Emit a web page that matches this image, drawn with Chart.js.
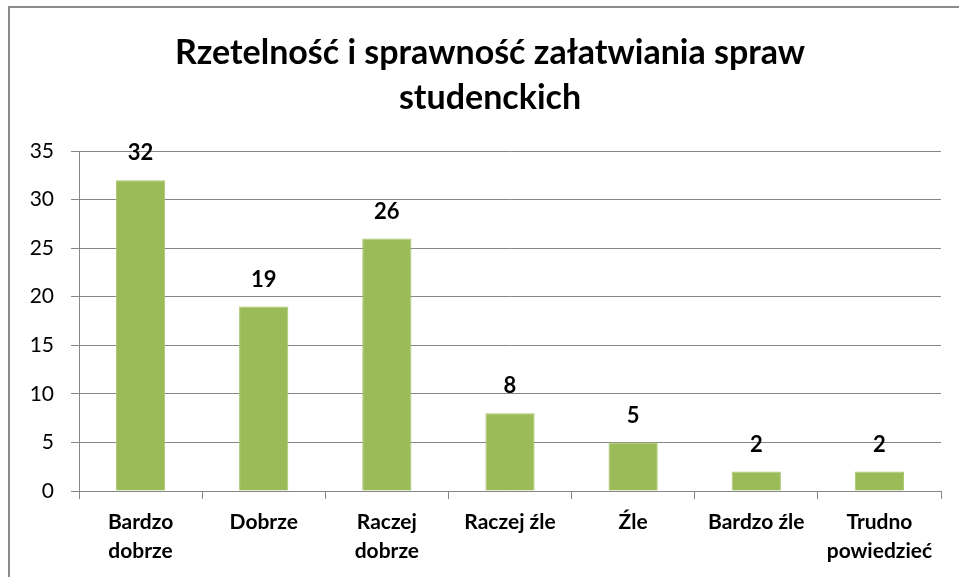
<!DOCTYPE html>
<html>
<head>
<meta charset="utf-8">
<script src="https://cdn.jsdelivr.net/npm/chart.js@4/dist/chart.umd.min.js"></script>
<style>
  html, body { margin: 0; padding: 0; background: #fff; overflow: hidden; }
  #wrap { position: relative; width: 959px; height: 577px; }
  #frame { position: absolute; left: 8px; top: 6px; width: 1000px; height: 700px; border-left: 2px solid #8c8c8c; border-top: 2px solid #8c8c8c; box-sizing: border-box; pointer-events: none; }
  canvas { position: absolute; left: 0; top: 0; }
</style>
</head>
<body>
<div id="wrap">
  <canvas id="c" width="959" height="577"></canvas>
  <div id="frame"></div>
</div>
<script>
const titleLines = ['Rzetelność i sprawność załatwiania spraw', 'studenckich'];
const categories = [['Bardzo', 'dobrze'], 'Dobrze', ['Raczej', 'dobrze'], 'Raczej źle', 'Źle', 'Bardzo źle', ['Trudno', 'powiedzieć']];
const values = [32, 19, 26, 8, 5, 2, 2];
const yMin = 0, yMax = 35, yStep = 5;

const FONT = 'Lato, "Open Sans", sans-serif';

const titlePlugin = {
  id: 'customTitle',
  afterDraw(chart) {
    const ctx = chart.ctx;
    ctx.save();
    ctx.fillStyle = '#000';
    ctx.font = 'bold 34px ' + FONT;
    ctx.textAlign = 'center';
    ctx.textBaseline = 'middle';
    ctx.fillText(titleLines[0], 490, 53);
    ctx.fillText(titleLines[1], 490, 98);
    ctx.restore();
  }
};

const labelPlugin = {
  id: 'barLabels',
  afterDatasetsDraw(chart) {
    const ctx = chart.ctx;
    const meta = chart.getDatasetMeta(0);
    ctx.save();
    ctx.fillStyle = '#000';
    ctx.font = 'bold 22px ' + FONT;
    ctx.textAlign = 'center';
    ctx.textBaseline = 'middle';
    meta.data.forEach((bar, i) => {
      ctx.fillText(String(values[i]), bar.x, bar.y - 27);
    });
    ctx.restore();
  }
};

new Chart(document.getElementById('c'), {
  type: 'bar',
  data: {
    labels: categories,
    datasets: [{
      data: values,
      backgroundColor: '#9BBB59',
      borderColor: '#A8C66C',
      borderWidth: 1,
      categoryPercentage: 1,
      barPercentage: 0.4
    }]
  },
  options: {
    responsive: false,
    animation: false,
    layout: { padding: { left: 0, top: 151, right: 18, bottom: 0 } },
    plugins: { legend: { display: false }, tooltip: { enabled: false }, title: { display: false } },
    scales: {
      x: {
        grid: { display: true, drawOnChartArea: false, drawTicks: true, tickLength: 8, color: '#868686', offset: true },
        border: { display: true, color: '#868686', width: 1 },
        ticks: { color: '#000', font: { family: FONT, size: 21, weight: 'bold', lineHeight: 1.38 }, padding: 9, maxRotation: 0, autoSkip: false },
        afterFit(scale) { scale.height = 86; }
      },
      y: {
        min: yMin, max: yMax,
        grid: { color: '#868686', tickLength: 8, drawTicks: true },
        border: { display: true, color: '#868686', width: 1 },
        ticks: { stepSize: yStep, color: '#000', font: { family: FONT, size: 21 }, padding: 17 },
        afterFit(scale) { scale.width = 79; }
      }
    }
  },
  plugins: [titlePlugin, labelPlugin]
});
</script>
</body>
</html>
